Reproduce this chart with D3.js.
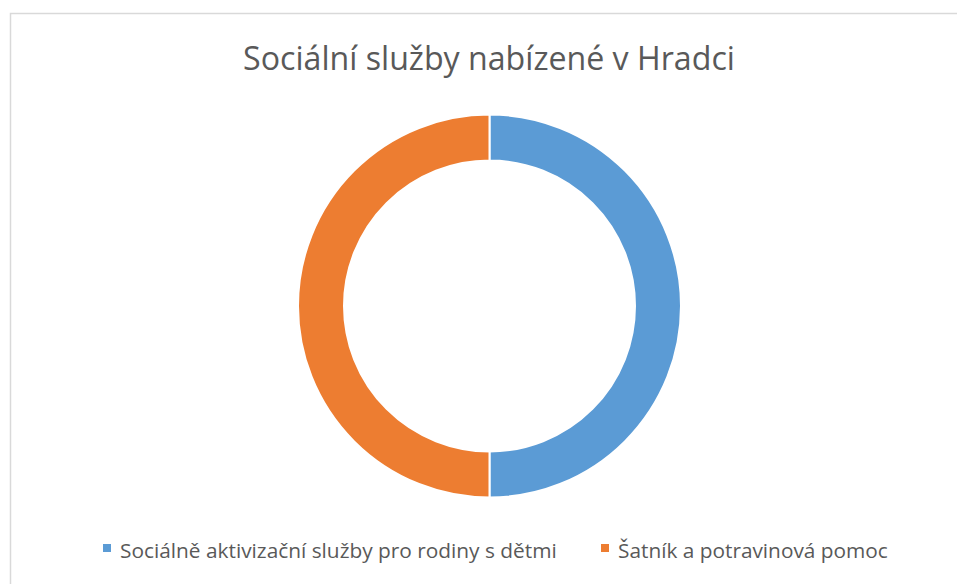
<!DOCTYPE html>
<html lang="cs">
<head>
  <meta charset="UTF-8">
  <title>Sociální služby nabízené v Hradci</title>
  <style>
    html, body { margin: 0; padding: 0; background: #fff; }
    svg { display: block; }
    text { font-family: "Open Sans", "Noto Sans", sans-serif; fill: #595959; }
  </style>
</head>
<body>
  <svg id="chart" width="957" height="584"></svg>

  <script src="https://d3js.org/d3.v7.min.js"></script>
  <script>
    const title = 'Sociální služby nabízené v Hradci';
    const categories = ['Sociálně aktivizační služby pro rodiny s dětmi', 'Šatník a potravinová pomoc'];
    const values = [1, 1];
    const colors = ['#5b9bd5', '#ed7d31'];

    const svg = d3.select('#chart');

    // chart area frame (right and bottom edges fall outside the window)
    svg.append('rect')
      .attr('x', 10.5).attr('y', 13.5)
      .attr('width', 960).attr('height', 600)
      .attr('fill', '#fff')
      .attr('stroke', '#d9d9d9')
      .attr('stroke-width', 1.5);

    // fit text to a measured width by adjusting font size
    function fit(sel, width) {
      const w = sel.node().getComputedTextLength();
      const fs = parseFloat(sel.attr('font-size'));
      sel.attr('font-size', fs * width / w);
    }

    const t = svg.append('text')
      .attr('x', 489).attr('y', 70)
      .attr('text-anchor', 'middle')
      .attr('font-size', 28)
      .text(title);
    fit(t, 492);

    const data = categories.map((c, i) => ({ name: c, value: values[i] }));
    const pie = d3.pie().value(d => d.value).sort(null);
    const arc = d3.arc().innerRadius(145.5).outerRadius(191.5);
    const color = d3.scaleOrdinal().domain(categories).range(colors);

    svg.append('g')
      .attr('transform', 'translate(489.5,306)')
      .selectAll('path')
      .data(pie(data))
      .join('path')
      .attr('d', arc)
      .attr('fill', d => color(d.data.name))
      .attr('stroke', '#fff')
      .attr('stroke-width', 2);

    // legend
    const legendX = [103, 601];
    const legendW = [437, 270];
    const legend = svg.append('g')
      .selectAll('g')
      .data(categories)
      .join('g')
      .attr('transform', (d, i) => `translate(${legendX[i]},0)`);

    legend.append('rect')
      .attr('x', 0).attr('y', 544)
      .attr('width', 8).attr('height', 8)
      .attr('fill', d => color(d));

    legend.append('text')
      .attr('x', 17).attr('y', 558)
      .attr('font-size', 19)
      .text(d => d)
      .each(function(d, i) { fit(d3.select(this), legendW[i]); });
  </script>
</body>
</html>
